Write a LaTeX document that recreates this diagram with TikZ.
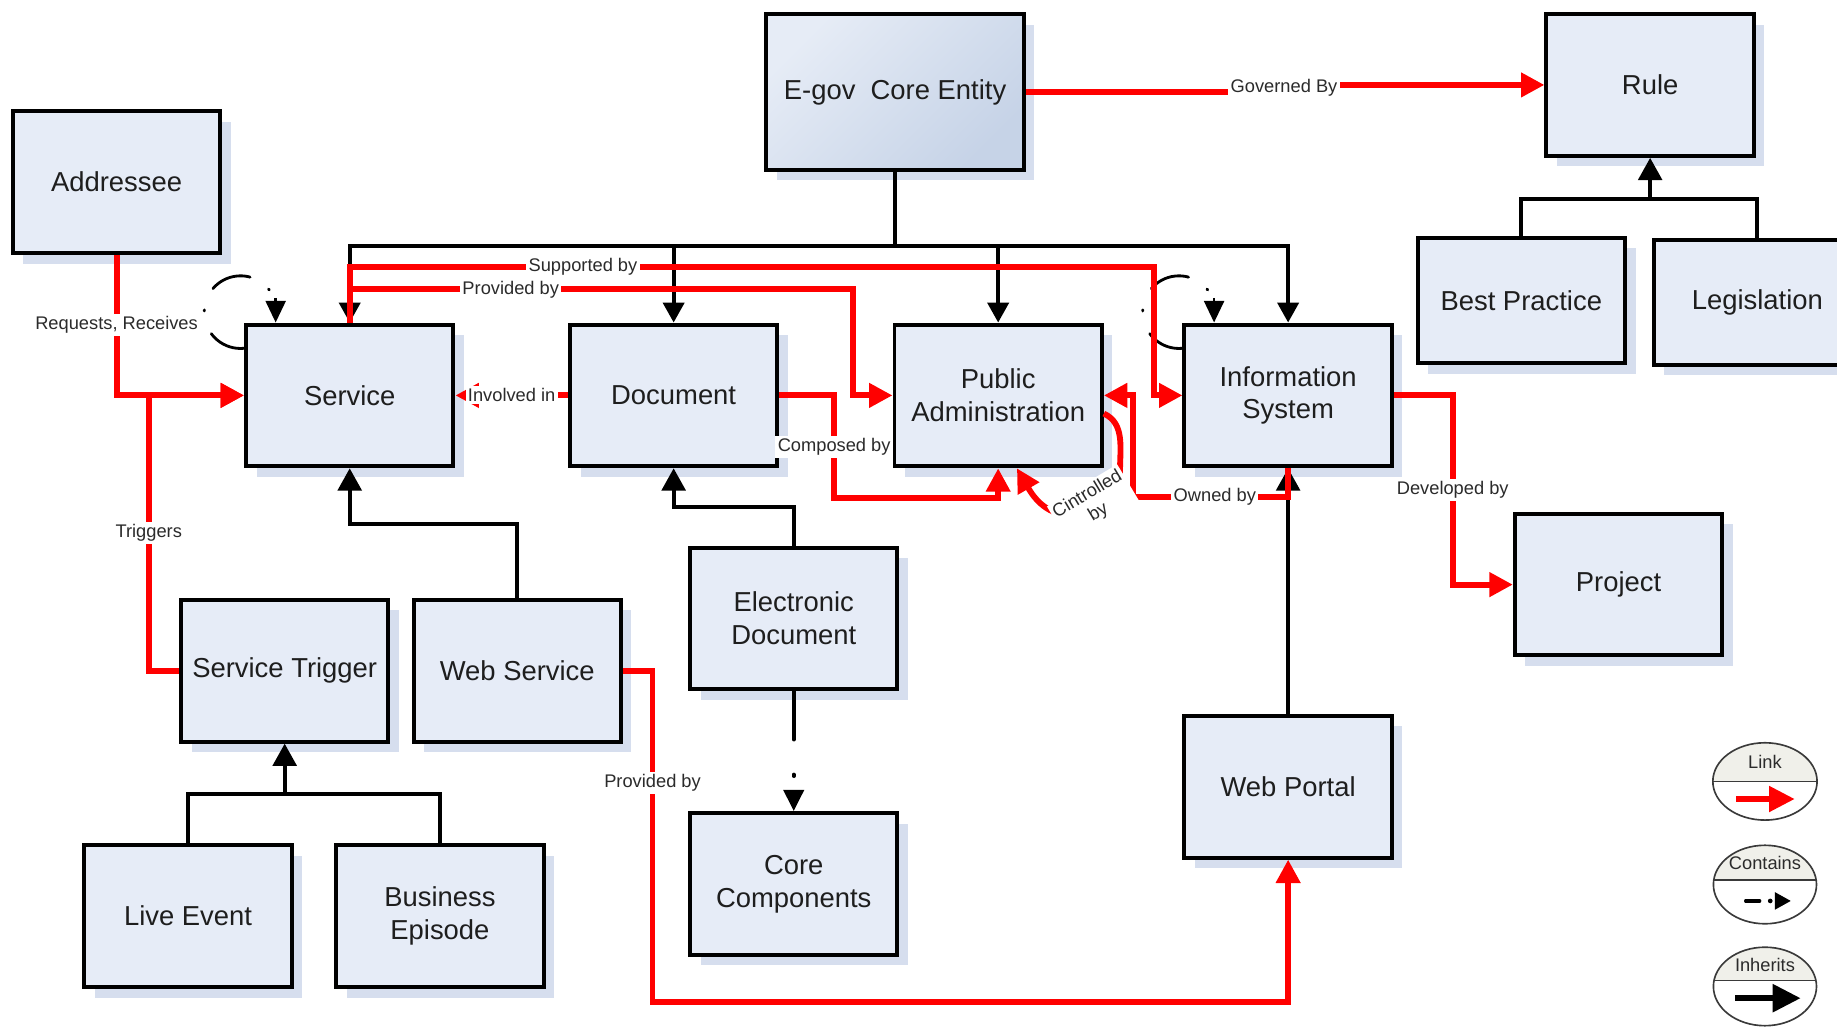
\documentclass[tikz,border=0pt]{standalone}
\usepackage{fontspec}
\setmainfont{Liberation Sans}
\usetikzlibrary{arrows.meta,shadows}

\definecolor{boxfill}{HTML}{E6ECF7}
\definecolor{boxshadow}{HTML}{D6DEEE}
\definecolor{egovlight}{HTML}{E6ECF6}
\definecolor{egovdark}{HTML}{C6D3E7}
\definecolor{boxtext}{HTML}{1E1E1E}
\definecolor{lbltext}{HTML}{2B2B2B}
\definecolor{linkred}{HTML}{FF0000}
\definecolor{legendtop}{HTML}{F0F0EA}
\definecolor{legendrim}{HTML}{3A3A3A}

\begin{document}
\begin{tikzpicture}[x=0.5pt,y=0.5pt,
  box/.style={draw=black, line width=1.7pt, fill=boxfill,
    minimum width=88.5pt, minimum height=60.5pt, inner sep=2pt,
    align=center, text=boxtext, font=\fontsize{11.7}{14}\selectfont,
    general shadow={fill=boxshadow, shadow xshift=4.5pt, shadow yshift=-4.5pt}},
  lowbox/.style={box, minimum height=53.5pt},
  inhline/.style={draw=black, line width=1.8pt},
  inh/.style={inhline, -{Triangle[length=9.5pt,width=10pt]}},
  inhdrop/.style={draw=black, line width=1.6pt, -{Triangle[length=8.5pt,width=9pt]}},
  link/.style={draw=linkred, line width=2.5pt, -{Triangle[length=10pt,width=10pt]}},
  lbl/.style={fill=white, inner sep=1pt, text=lbltext, font=\fontsize{7.8}{9}\selectfont},
  looparc/.style={draw=black, line width=1.2pt, line cap=round,
    dash pattern=on 16pt off 10.3pt on 0.5pt off 10pt on 17.5pt off 9.5pt on 0.5pt off 30pt},
  looptip/.style={draw=black, line width=1.15pt, -{Triangle[length=9.25pt,width=8.5pt]}},
  containsline/.style={draw=black, line width=1.7pt, line cap=round,
    dash pattern=on 20.5pt off 15pt on 0.6pt off 30pt,
    -{Triangle[length=9pt,width=8.5pt]}},
  legendrimline/.style={draw=legendrim, line width=0.7pt},
  legtext/.style={text=lbltext, font=\fontsize{7.8}{9}\selectfont, inner sep=0pt}
]
\useasboundingbox (0,0) rectangle (1568,-877);
\clip (0,0) rectangle (1568,-877);
\fill[white] (0,0) rectangle (1568,-877);

% ---------- entities ----------
\node[box, top color=egovlight, bottom color=egovdark, shading angle=45,
      minimum width=110pt, minimum height=66.5pt] (E) at (764,-78.5) {E-gov~~Core Entity};
\node[box] (R) at (1408.5,-72.5) {Rule};
\node[box] (A) at (99.5,-155.5) {Addressee};
\node[lowbox] (BP) at (1298.5,-256.5) {Best Practice};
\node[lowbox] (LG) at (1500,-258) {Legislation};
\node[box] (S) at (298.5,-337.5) {Service};
\node[box] (D) at (575,-337.5) {Document};
\node[box] (PA) at (852,-337.5) {Public\\Administration};
\node[box] (IS) at (1099.5,-337.5) {Information\\System};
\node[box] (P) at (1381.5,-499) {Project};
\node[box] (ED) at (677.5,-528) {Electronic\\Document};
\node[box] (ST) at (243,-572.5) {Service Trigger};
\node[box] (WS) at (441.5,-572.5) {Web Service};
\node[box] (WP) at (1099.5,-671.5) {Web Portal};
\node[box] (CC) at (677.5,-754.5) {Core\\Components};
\node[box] (LE) at (160.5,-782) {Live Event};
\node[box] (BE) at (375.5,-782) {Business\\Episode};

% ---------- inheritance (black) ----------
\coordinate (bus) at (764,-210);
\draw[inhline] (E.south) -- (bus);
\draw[inhdrop] (bus) -| (S.north);
\draw[inhdrop] (bus) -| (D.north);
\draw[inhdrop] (bus) -| (PA.north);
\draw[inhdrop] (bus) -| (IS.north);

\coordinate (jWS) at (441.5,-447);
\draw[inh] (WS.north) -- (jWS) -| (S.south);
\coordinate (jED) at (677.5,-433);
\draw[inh] (ED.north) -- (jED) -| (D.south);

\coordinate (jST) at (243,-678);
\draw[inhline] (LE.north) |- (jST);
\draw[inhline] (BE.north) |- (jST);
\draw[inh] (jST) -- (ST.south);

\coordinate (jR) at (1408.5,-170);
\draw[inhline] (BP.north) |- (jR);
\draw[inhline] (LG.north) |- (jR);
\draw[inh] (jR) -- (R.south);

\draw[inh] (WP.north) -- (IS.south);

% ---------- containment ----------
\draw[containsline] (ED.south) -- (CC.north);
\draw[looparc] ([shift={(0,-22)}]S.north west) arc[start angle=-84.5, end angle=-338, radius=15.5pt];
\draw[looptip] ([shift={(27,21)}]S.north west) -- ([shift={(27,0)}]S.north west);
\draw[looparc] ([shift={(0,-22)}]IS.north west) arc[start angle=-84.5, end angle=-338, radius=15.5pt];
\draw[looptip] ([shift={(27,21)}]IS.north west) -- ([shift={(27,0)}]IS.north west);

% ---------- links (red) ----------
\coordinate (gv) at (1096,-75);
\draw[link] (E.east) -| (gv) |- (R.west);
\node[lbl] (gvl) at (gv) {Governed By};

\draw[link] (A.south) |- node[lbl,pos=0.25]{Requests, Receives} (S.west);
\draw[link] (ST.west) -- (127,-572.5) |- node[lbl,pos=0.25]{Triggers} (S.west);
\draw[link] (D.west) -- node[lbl]{Involved in} (S.east);
\draw[link] (D.east) -- (712,-337.5) -- node[lbl]{Composed by} (712,-425) -| (PA.south);
\draw[link] (S.north) |- node[lbl,pos=0.66]{Provided by} (728,-247) |- (PA.west);
\draw[link] (S.north) |- node[lbl,pos=0.645]{Supported by} (985,-228) |- (IS.west);
\draw[link] (IS.south) |- node[lbl,pos=0.736]{Owned by} (967,-424) |- (PA.east);
\draw[link] (IS.east) -- (1240,-337.5) |- node[lbl,pos=0.25]{Developed by} (P.west);
\draw[link] (WS.east) -| node[lbl,pos=0.67]{Provided by} (557,-855) -| (WP.south);

\draw[link] ([shift={(0,-15.5)}]PA.east) to[out=-25,in=90] (956,-402)
  to[out=-90,in=0] (915,-440) to[out=180,in=-60] ([shift={(16,0)}]PA.south);
\node[lbl, rotate=31, align=center] (ctl) at (933,-430) {Cintrolled\\by};

% ---------- legend ----------
% Link
\begin{scope}
  \clip (1506.5,-667) ellipse [x radius=22.25pt, y radius=16.5pt];
  \fill[legendtop] (1450,-667) rectangle (1560,-620);
  \draw[legendrimline] (1450,-667) -- (1560,-667);
\end{scope}
\draw[legendrimline] (1506.5,-667) ellipse [x radius=22.25pt, y radius=16.5pt];
\node[legtext] (lgLink) at (1506.5,-650) {Link};
\draw[draw=linkred, line width=2.6pt, -{Triangle[length=11pt,width=10.5pt]}] (1482,-682) -- (1532,-682);

% Contains
\begin{scope}
  \clip (1506.5,-755) ellipse [x radius=22pt, y radius=16.75pt];
  \fill[legendtop] (1450,-751) rectangle (1560,-700);
  \draw[legendrimline] (1450,-751) -- (1560,-751);
\end{scope}
\draw[legendrimline] (1506.5,-755) ellipse [x radius=22pt, y radius=16.75pt];
\node[legtext] (lgContains) at (1506.5,-737) {Contains};
\draw[black, line width=1.4pt, line cap=round] (1490,-769) -- (1502,-769);
\fill[black] (1511,-769) circle (1pt);
\fill[black] (1515,-761.5) -- (1528.5,-769) -- (1515,-776.5) -- cycle;

% Inherits
\begin{scope}
  \clip (1506.5,-842) ellipse [x radius=22pt, y radius=16.75pt];
  \fill[legendtop] (1450,-837) rectangle (1560,-790);
  \draw[legendrimline] (1450,-837) -- (1560,-837);
\end{scope}
\draw[legendrimline] (1506.5,-842) ellipse [x radius=22pt, y radius=16.75pt];
\node[legtext] (lgInherits) at (1506.5,-824) {Inherits};
\draw[black, line width=2.6pt, -{Triangle[length=12pt,width=11.5pt]}] (1481,-852) -- (1537,-852);
\end{tikzpicture}
\end{document}
